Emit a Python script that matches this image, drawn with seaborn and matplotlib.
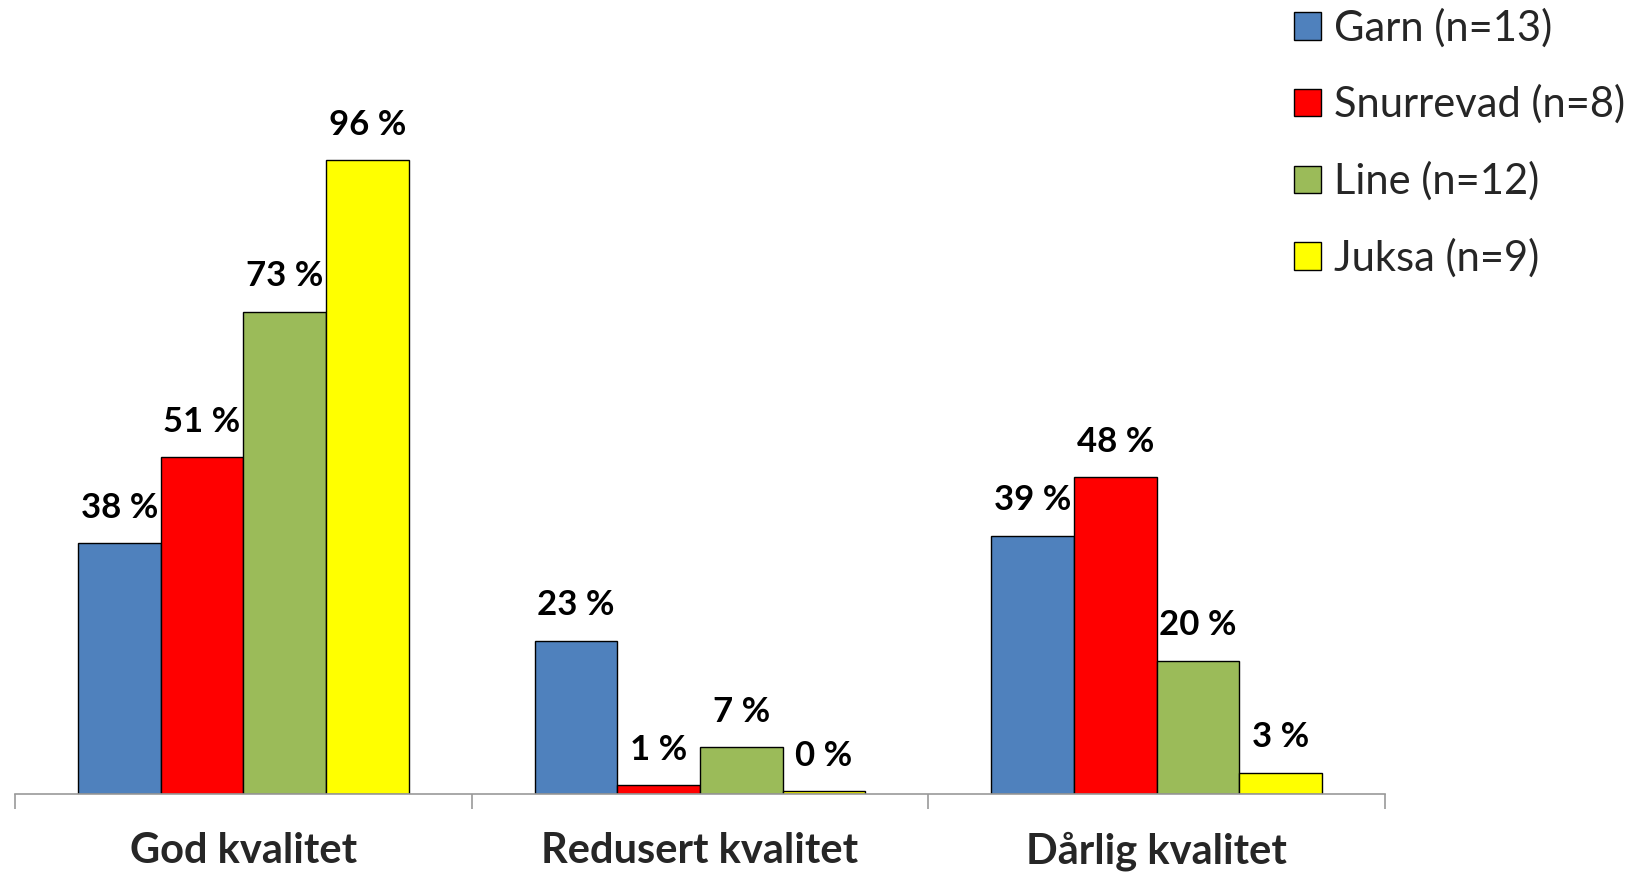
import pandas as pd
import numpy as np
import matplotlib
matplotlib.use("Agg")
import matplotlib.pyplot as plt
import seaborn as sns

# -- data --
categories = ["God kvalitet", "Redusert kvalitet", "Dårlig kvalitet"]
series = ["Garn (n=13)", "Snurrevad (n=8)", "Line (n=12)", "Juksa (n=9)"]
garn = [38, 23.2, 39.1]
snurrevad = [51, 1.3, 48]
line = [73.1, 7.1, 20.2]
juksa = [96, 0.45, 3.2]
colors = ["#4F81BD", "#FF0000", "#9BBB59", "#FFFF00"]

rows = []
for name, vals in zip(series, [garn, snurrevad, line, juksa]):
    for cat, v in zip(categories, vals):
        rows.append({"Kategori": cat, "Redskap": name, "Andel": v})
df = pd.DataFrame(rows)

sns.set_style("white")
plt.rcParams["font.family"] = ["Lato", "DejaVu Sans"]

W, H = 1645, 872
fig = plt.figure(figsize=(W / 100, H / 100), dpi=100)
base_y = 794
ax = fig.add_axes([15 / W, (H - base_y) / H, 1370 / W, base_y / H])

sns.barplot(data=df, x="Kategori", y="Andel", hue="Redskap",
            order=categories, hue_order=series, palette=colors,
            width=0.724, gap=0, edgecolor="black", linewidth=1,
            saturation=1, errorbar=None, ax=ax, legend=True)

for cont in ax.containers:
    ax.bar_label(cont, fmt="{:.0f} %", padding=14, fontsize=25,
                 fontweight="bold", color="black")

ax.set_ylim(0, base_y / 6.6)
ax.set_xlim(-0.5, 2.5)
ax.set_xlabel("")
ax.set_ylabel("")
ax.set_yticks([])
for s in ["top", "right", "left"]:
    ax.spines[s].set_visible(False)
ax.spines["bottom"].set_color("#999999")
ax.spines["bottom"].set_linewidth(1.2)

# group separators as minor ticks, labels on major ticks
ax.set_xticks(np.arange(len(categories)))
ax.set_xticklabels(categories, fontsize=30, fontweight="bold")
ax.set_xticks(np.arange(len(categories) + 1) - 0.5, minor=True)
ax.tick_params(axis="x", which="major", bottom=True, length=0, pad=27)
ax.tick_params(axis="x", which="minor", bottom=True, length=11,
               color="#999999", width=1.2)

handles, labels = ax.get_legend_handles_labels()
ax.legend(handles, labels, loc="upper left", bbox_to_anchor=(1294 / W, 0.991),
          bbox_transform=fig.transFigure, frameon=False, fontsize=30,
          handlelength=0.65, handleheight=0.65, handletextpad=0.3,
          labelspacing=0.9, borderaxespad=0, borderpad=0)

fig.savefig("out.png", dpi=100)
